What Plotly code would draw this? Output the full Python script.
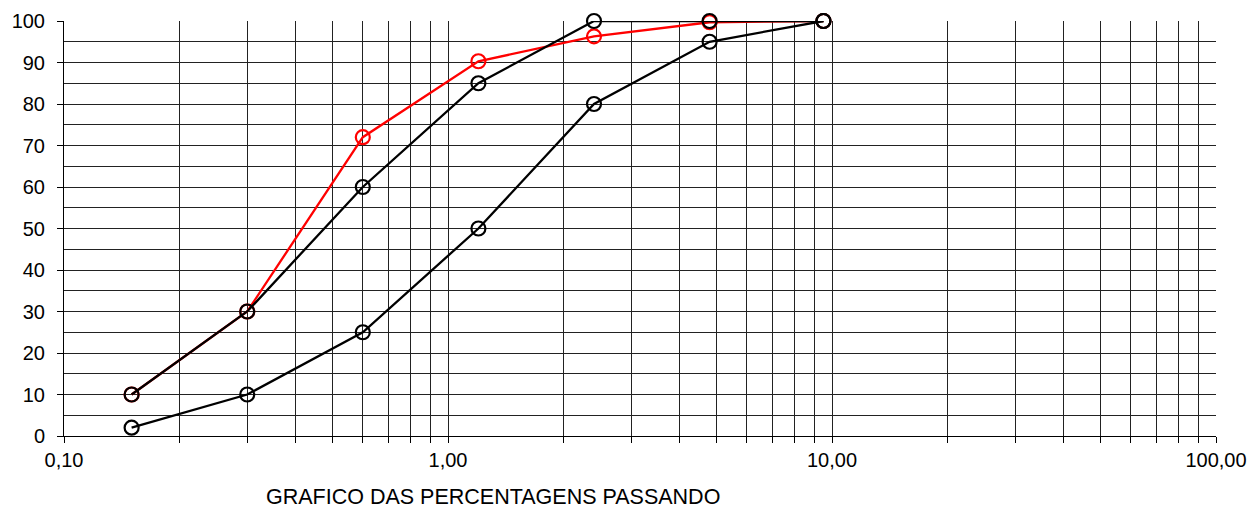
import plotly.graph_objects as go

sieve_mm = [0.15, 0.3, 0.6, 1.2, 2.4, 4.8, 9.5]
upper_limit = [10, 30, 60, 85, 100, 100, 100]
lower_limit = [2, 10, 25, 50, 80, 95, 100]
sample = [10, 30, 72, 90.3, 96.3, 99.7, 100]

x_tickvals = [m * 10 ** e for e in (-1, 0, 1) for m in range(1, 10)] + [100]
x_ticktext = ["0,10" if v == 0.1 else "1,00" if v == 1 else "10,00" if v == 10 else "100,00" if v == 100 else "" for v in x_tickvals]
y_tickvals = list(range(0, 101, 10))

fig = go.Figure()

def add(y, color):
    fig.add_trace(go.Scatter(
        x=sieve_mm, y=y, mode="lines+markers",
        line=dict(color=color, width=2.3),
        marker=dict(symbol="circle-open", size=14, color=color, line=dict(width=2.2)),
        cliponaxis=False, showlegend=False, hoverinfo="skip",
    ))

add(sample, "#ff0000")
add(lower_limit, "#000000")
add(upper_limit, "#000000")

fig.update_layout(
    width=1250, height=508,
    margin=dict(l=64, r=34, t=21, b=72),
    paper_bgcolor="white", plot_bgcolor="white",
    font=dict(family="Liberation Sans, Arial, sans-serif", size=20, color="black"),
    xaxis=dict(
        type="log", range=[-1, 2], automargin=False,
        tickmode="array", tickvals=x_tickvals, ticktext=x_ticktext,
        ticks="outside", ticklen=6, tickcolor="black", tickwidth=1,
        showgrid=True, gridcolor="#222", gridwidth=1,
        showline=True, linecolor="black", linewidth=1,
        zeroline=False, tickangle=0,
    ),
    yaxis=dict(
        range=[0, 100], automargin=False,
        tickmode="array", tickvals=y_tickvals,
        ticks="outside", ticklen=6, tickcolor="black", tickwidth=1,
        ticklabelstandoff=8,
        showgrid=True, gridcolor="#222", gridwidth=1,
        minor=dict(dtick=5, showgrid=True, gridcolor="#222", gridwidth=1, ticks=""),
        showline=True, linecolor="black", linewidth=1,
        zeroline=False,
    ),
    annotations=[dict(
        text="GRAFICO DAS PERCENTAGENS PASSANDO",
        xref="paper", yref="paper", x=0.372, y=-0.147,
        xanchor="center", yanchor="middle", showarrow=False,
        font=dict(size=21.5, color="black"),
    )],
)

fig.write_html("out.html", config={"displayModeBar": False},
               post_script="document.body.style.margin='0';document.body.style.overflow='hidden';")
